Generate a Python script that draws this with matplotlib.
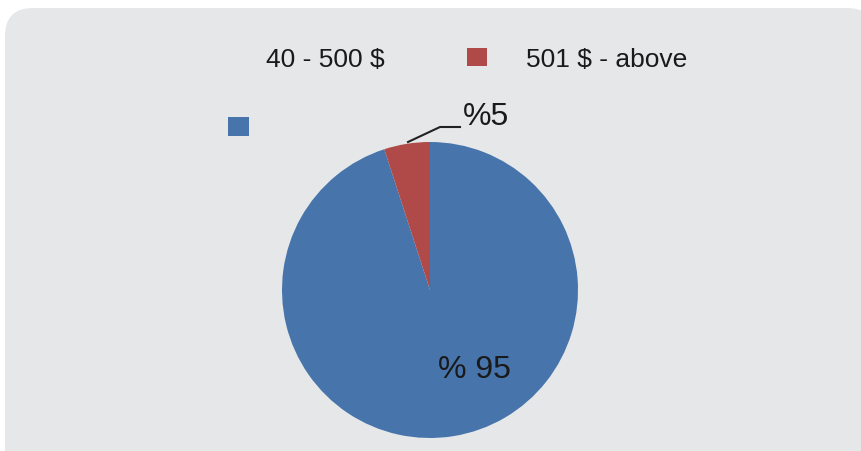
import matplotlib
matplotlib.use("Agg")
import matplotlib.pyplot as plt
from matplotlib.patches import FancyBboxPatch, Rectangle

categories = ["40 - 500 $", "501 $ - above"]
values = [95, 5]
value_labels = ["% 95", "%5"]
colors = ["#4674AB", "#AF4A48"]

W, H = 861, 452
fig = plt.figure(figsize=(W / 100, H / 100), dpi=100)
fig.patch.set_facecolor("white")
ax = fig.add_axes([0, 0, 1, 1])

# rounded grey background box
ax.add_patch(FancyBboxPatch((5, -30), 870, H - 9 + 30, boxstyle="round,pad=0,rounding_size=28",
                            facecolor="#E6E7E9", edgecolor="none", zorder=0))

def Y(y):
    return H - y

cx, cy, r = 430, 291, 148
wedges, _ = ax.pie(values, colors=colors, startangle=90, counterclock=False,
                   center=(cx, Y(cy)), radius=r, frame=True,
                   wedgeprops=dict(linewidth=0))
ax.set_xlim(0, W)
ax.set_ylim(0, H)
ax.set_aspect("equal")
ax.axis("off")

# value labels
ax.text(474, Y(370), value_labels[0], fontsize=23, family="Liberation Sans", color="#1a1a1a",
        ha="center", va="center")
ax.text(486, Y(117), value_labels[1], fontsize=23, family="Liberation Sans", color="#1a1a1a",
        ha="center", va="center")
ax.plot([408, 440, 460], [Y(143), Y(128), Y(128)], color="#222222", lw=1.5)

# legend
ax.text(325, Y(60), categories[0], fontsize=19, family="Liberation Sans", color="#1a1a1a",
        ha="center", va="center")
ax.add_patch(Rectangle((467, Y(67)), 20, 18, facecolor=colors[1], edgecolor="none"))
ax.text(526, Y(60), categories[1], fontsize=19, family="Liberation Sans", color="#1a1a1a",
        ha="left", va="center")
ax.add_patch(Rectangle((228, Y(137)), 21, 19, facecolor=colors[0], edgecolor="none"))

fig.savefig("out.png", dpi=100, facecolor="white")
